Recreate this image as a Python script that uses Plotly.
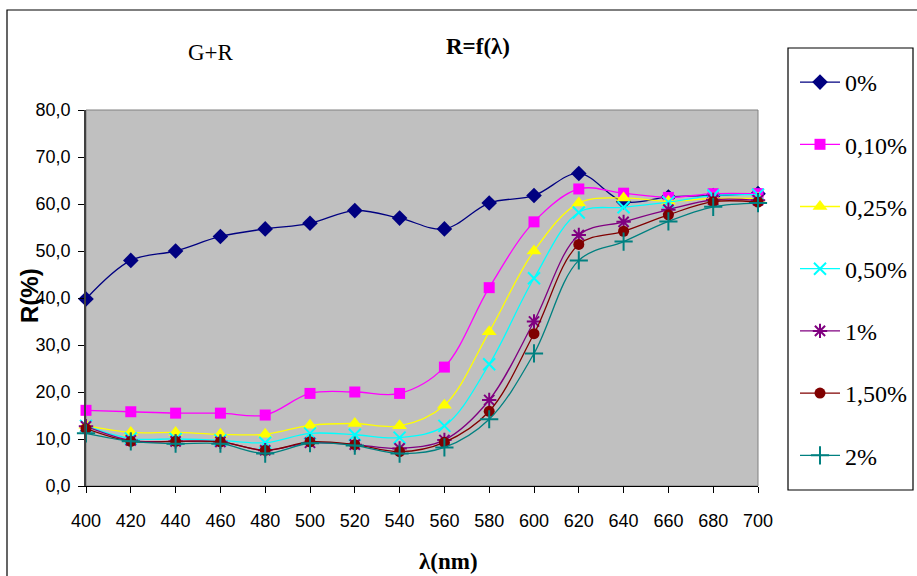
import plotly.graph_objects as go

wavelength = [400, 420, 440, 460, 480, 500, 520, 540, 560, 580, 600, 620, 640, 660, 680, 700]
series_names = ["0%", "0,10%", "0,25%", "0,50%", "1%", "1,50%", "2%"]
r_0 = [39.8, 48.0, 50.0, 53.1, 54.7, 55.9, 58.6, 57.0, 54.7, 60.2, 61.8, 66.5, 60.5, 61.5, 61.8, 62.2]
r_010 = [16.1, 15.8, 15.5, 15.5, 15.1, 19.7, 20.0, 19.7, 25.3, 42.2, 56.2, 63.2, 62.3, 61.4, 62.2, 62.2]
r_025 = [12.9, 11.4, 11.4, 11.0, 11.0, 12.9, 13.3, 12.8, 17.2, 32.8, 50.0, 60.2, 61.3, 60.6, 61.2, 61.2]
r_050 = [12.8, 10.1, 10.0, 9.7, 9.2, 11.2, 10.9, 10.3, 12.8, 25.9, 44.2, 58.2, 59.3, 60.4, 61.8, 62.0]
r_1 = [12.7, 9.7, 9.5, 9.4, 7.6, 9.2, 8.8, 8.0, 9.8, 18.3, 35.0, 53.4, 56.2, 58.8, 60.9, 60.8]
r_150 = [12.2, 9.5, 9.5, 9.4, 7.6, 9.4, 8.8, 7.3, 9.3, 15.9, 32.4, 51.4, 54.2, 57.7, 60.5, 60.4]
r_2 = [11.2, 9.5, 9.0, 9.0, 6.9, 9.1, 8.6, 6.9, 8.2, 14.2, 28.2, 48.0, 52.0, 56.3, 59.4, 60.2]

all_series = [r_0, r_010, r_025, r_050, r_1, r_150, r_2]
colors = ["#000080", "#FF00FF", "#FFFF00", "#00FFFF", "#800080", "#800000", "#008080"]
symbols = ["diamond", "square", "triangle-up", "x-thin-open", "asterisk-open", "circle", "cross-thin-open"]
sizes = [12, 11, 13, 12, 12, 11, 13]

fig = go.Figure()
for i, (name, vals) in enumerate(zip(series_names, all_series)):
    sym = symbols[i]
    thin = sym.endswith("-open")
    fig.add_trace(go.Scatter(
        x=wavelength, y=vals, name=name, mode="lines+markers",
        legendgroup="g%d" % i,
        line=dict(color=colors[i], width=1.3, shape="spline"),
        marker=dict(symbol=sym, size=sizes[i], color=colors[i],
                    line=dict(color=colors[i], width=2 if thin else 0)),
        cliponaxis=False,
    ))

L, R, T, B = 86, 159, 110, 90
W, H = 917, 576
pw, ph = W - L - R, H - T - B

def px(x):
    return (x - L) / pw

def py(y):
    return (H - B - y) / ph

fig.update_layout(
    width=W, height=H, autosize=False,
    margin=dict(l=L, r=R, t=T, b=B, pad=0),
    paper_bgcolor="white", plot_bgcolor="#C0C0C0",
    separators=",.",
    showlegend=True,
    legend=dict(
        xref="container", yref="container",
        x=795 / W, xanchor="left", y=1 - 60 / H, yanchor="top",
        borderwidth=0, bgcolor="rgba(0,0,0,0)",
        font=dict(family="Liberation Serif", size=24, color="black"),
        traceorder="grouped", tracegroupgap=28,
        itemwidth=40, maxheight=1000,
    ),
    xaxis=dict(
        range=[400, 700], tickmode="array", tickvals=wavelength,
        ticks="outside", ticklen=6, tickcolor="black",
        showline=True, linecolor="black", linewidth=1,
        showgrid=False, zeroline=False, ticklabelstandoff=12,
        tickfont=dict(family="Liberation Sans", size=18, color="black"),
    ),
    yaxis=dict(
        range=[0, 80], dtick=10, tickformat=".1f",
        ticks="outside", ticklen=6, tickcolor="black",
        showline=True, linecolor="#404040", linewidth=1.5,
        showgrid=False, zeroline=False, ticklabelstandoff=4,
        tickfont=dict(family="Liberation Sans", size=18, color="black"),
    ),
    shapes=[
        dict(type="rect", xref="paper", yref="paper", x0=0, x1=1, y0=0, y1=1,
             line=dict(color="#808080", width=1), layer="below"),
        dict(type="rect", xref="paper", yref="paper", x0=px(7), x1=px(925), y0=py(585), y1=py(10),
             line=dict(color="black", width=1.2)),
        dict(type="rect", xref="paper", yref="paper", x0=px(788), x1=px(913), y0=py(490), y1=py(48),
             line=dict(color="black", width=1.2)),
    ],
    annotations=[
        dict(text="G+R", xref="paper", yref="paper", x=px(211), y=py(53),
             xanchor="center", yanchor="middle", showarrow=False,
             font=dict(family="Liberation Serif", size=23, color="black")),
        dict(text="<b>R=f(λ)</b>", xref="paper", yref="paper", x=px(478), y=py(47),
             xanchor="center", yanchor="middle", showarrow=False,
             font=dict(family="Liberation Serif", size=23, color="black")),
        dict(text="<b>λ(nm)</b>", xref="paper", yref="paper", x=px(448), y=py(561),
             xanchor="center", yanchor="middle", showarrow=False,
             font=dict(family="Liberation Serif", size=23, color="black")),
        dict(text="<b>R(%)</b>", xref="paper", yref="paper", x=px(29), y=py(296),
             xanchor="center", yanchor="middle", showarrow=False, textangle=-90,
             font=dict(family="Liberation Sans", size=24, color="black")),
    ],
)

fig.write_html("out.html", config={"displayModeBar": False},
               post_script="document.body.style.margin='0';document.body.style.overflow='hidden';")
